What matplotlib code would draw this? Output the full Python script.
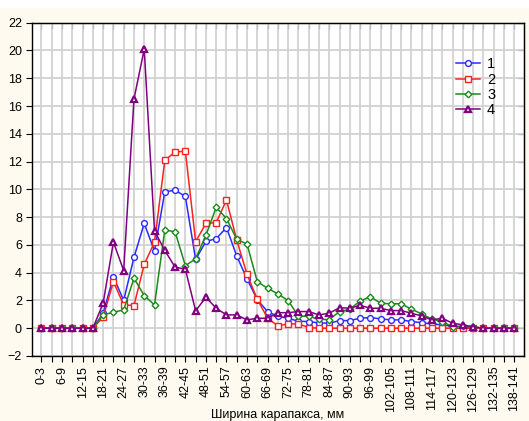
import matplotlib.pyplot as plt
from matplotlib.patches import Rectangle
import numpy as np

plt.rcParams['font.family'] = ['Liberation Sans', 'DejaVu Sans']

# carapace width classes, 3 mm step
classes = ["%d-%d" % (a, a + 3) for a in range(0, 141, 3)]

series_1 = [0, 0, 0, 0, 0, 0, 1.07, 3.7, 2.0, 5.1, 7.55, 5.55, 9.83, 9.93, 9.5, 4.95,
            6.25, 6.45, 7.25, 5.2, 3.55, 2.05, 1.2, 0.85, 0.72, 0.5, 0.48, 0.38, 0.36,
            0.55, 0.55, 0.72, 0.77, 0.67, 0.6, 0.6, 0.48, 0.4, 0.3, 0.24, 0.15, 0.1,
            0.05, 0, 0, 0, 0]
series_2 = [0, 0, 0, 0, 0, 0, 0.8, 3.35, 1.68, 1.63, 4.6, 6.2, 12.1, 12.68, 12.75, 6.23,
            7.55, 7.6, 9.23, 6.35, 3.88, 2.08, 0.72, 0.17, 0.31, 0.31, 0.05, 0, 0,
            0, 0, 0, 0, 0, 0, 0, 0, 0, 0, 0, 0, 0,
            0, 0, 0, 0, 0]
series_3 = [0, 0, 0, 0, 0, 0, 0.96, 1.15, 1.32, 3.6, 2.35, 1.68, 7.07, 6.95, 4.5, 5.0,
            6.7, 8.7, 7.9, 6.4, 6.06, 3.35, 2.88, 2.47, 1.99, 0.88, 0.85, 0.65, 0.62,
            1.2, 1.37, 1.96, 2.27, 1.8, 1.76, 1.76, 1.37, 1.03, 0.65, 0.48, 0.1, 0.15,
            0.1, 0, 0, 0, 0]
series_4 = [0, 0, 0, 0, 0, 0, 1.8, 6.2, 4.15, 16.5, 20.1, 7.0, 5.6, 4.4, 4.25, 1.25,
            2.23, 1.44, 0.96, 0.96, 0.6, 0.72, 0.72, 1.12, 1.12, 1.2, 1.2, 0.96, 1.08,
            1.48, 1.44, 1.65, 1.44, 1.44, 1.27, 1.27, 1.08, 0.88, 0.6, 0.72, 0.36, 0.24,
            0.1, 0, 0, 0, 0]

series_names = ["1", "2", "3", "4"]
series_data = [series_1, series_2, series_3, series_4]
colors = ["#2a2aff", "#ff2020", "#1a8a1a", "#800080"]
markers = ["o", "s", "D", "^"]
msizes = [4.2, 4.2, 3.4, 4.2]

bg = "#fffaf0"
fig = plt.figure(figsize=(5.29, 4.21), dpi=100, facecolor=bg)
fig.patches.append(Rectangle((0, 1 - 7.5 / 421), 1, 7.5 / 421, transform=fig.transFigure,
                             facecolor="white", edgecolor="none", zorder=-1))
ax = fig.add_axes([31.7 / 529, 1 - 356 / 421, (523.5 - 31.7) / 529, (356 - 22.7) / 421])
ax.set_facecolor("white")

x = np.arange(len(classes))
for name, vals, c, m, ms in zip(series_names, series_data, colors, markers, msizes):
    ax.plot(x, vals, color=c, lw=1.1, marker=m, markersize=ms, markerfacecolor="white",
            markeredgecolor=c, markeredgewidth=1.0 if m != "^" else 1.6, label=name)

ax.set_xlim(-0.95, 46.9)
ax.set_ylim(-2, 22)
ax.set_yticks(np.arange(-2, 23, 2))
ax.set_xticks(x)
ax.set_xticklabels([c if i % 2 == 0 else "" for i, c in enumerate(classes)],
                   rotation=90, fontsize=9)
ax.tick_params(axis='y', labelsize=9, length=4, direction='out', pad=3)
ax.tick_params(axis='x', length=4, direction='out', pad=3)

# inward ticks on the top and right frame
top = ax.secondary_xaxis('top')
top.set_xticks(x)
top.tick_params(direction='in', length=4, labeltop=False)
right = ax.secondary_yaxis('right')
right.set_yticks(np.arange(-2, 23, 2))
right.tick_params(direction='in', length=4, labelright=False)

ax.grid(True, color="#d2d2d2", lw=1.3)
ax.set_axisbelow(True)
for s in ax.spines.values():
    s.set_color("black")
    s.set_linewidth(1.0)

ax.legend(loc='upper left', bbox_to_anchor=(0.837, 0.935), frameon=False, fontsize=10.5,
          handlelength=1.6, labelspacing=0.08, handletextpad=0.5)

fig.text(277.5 / 529, 3 / 421, "Ширина карапакса, мм", ha='center', va='baseline',
         fontsize=9)

fig.savefig("out.png", dpi=100, facecolor=bg)
